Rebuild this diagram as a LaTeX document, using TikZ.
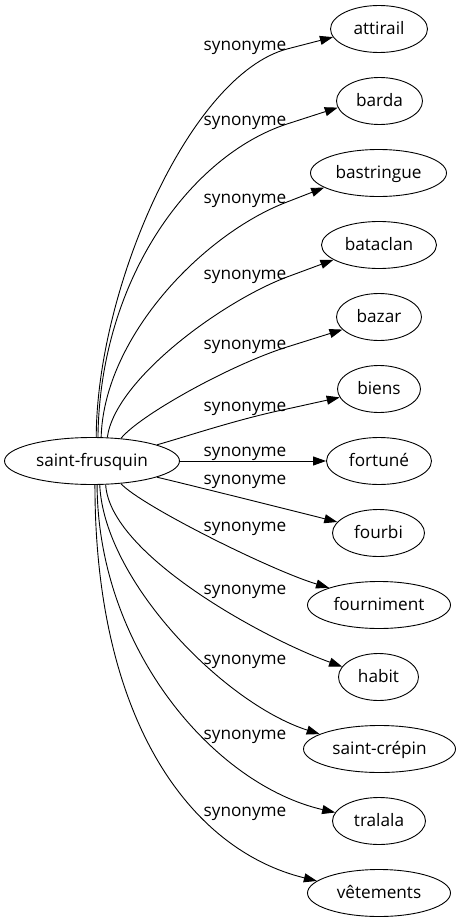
\documentclass[tikz,border=0pt]{standalone}
\usepackage{fontspec}
\setmainfont{Open Sans}
\usetikzlibrary{shapes.geometric,arrows.meta}
\begin{document}
\begin{tikzpicture}[x=1pt,y=-1pt,
  word/.style={ellipse,draw,line width=0.9pt,inner sep=0pt,minimum height=47pt,
    font=\fontsize{17.2}{20}\selectfont,text height=14pt,text depth=3.4pt},
  lab/.style={anchor=base,inner sep=0pt,font=\fontsize{17.2}{20}\selectfont},
  edge/.style={line width=0.9pt,-{Triangle[length=13pt,width=9pt]}}]
\useasboundingbox (0,0) rectangle (461,923);
\node[word,minimum width=175pt] (main) at (92,461) {saint-frusquin};
\node[word,minimum width=97pt] (attirail) at (379,29) {attirail};
\node[word,minimum width=86pt] (barda) at (379.5,101) {barda};
\node[word,minimum width=136pt] (bastringue) at (378.5,173) {bastringue};
\node[word,minimum width=115pt] (bataclan) at (379,245) {bataclan};
\node[word,minimum width=85pt] (bazar) at (379,317) {bazar};
\node[word,minimum width=83pt] (biens) at (379,389) {biens};
\node[word,minimum width=105pt] (fortune) at (379,461) {fortuné};
\node[word,minimum width=92pt] (fourbi) at (378.5,533) {fourbi};
\node[word,minimum width=143pt] (fourniment) at (379,605) {fourniment};
\node[word,minimum width=80pt] (habit) at (378.5,677) {habit};
\node[word,minimum width=152pt] (saintcrepin) at (379.5,749) {saint-crépin};
\node[word,minimum width=93pt] (tralala) at (379,821) {tralala};
\node[word,minimum width=143pt] (vetements) at (379,893) {vêtements};
\node[lab] (l1) at (245,51) {synonyme};
\node[lab] (l2) at (245,126) {synonyme};
\node[lab] (l3) at (245,203) {synonyme};
\node[lab] (l4) at (245,279) {synonyme};
\node[lab] (l5) at (245,349) {synonyme};
\node[lab] (l6) at (245,411) {synonyme};
\node[lab] (l7) at (245,456) {synonyme};
\node[lab] (l8) at (245,484) {synonyme};
\node[lab] (l9) at (245,531) {synonyme};
\node[lab] (l10) at (245,594) {synonyme};
\node[lab] (l11) at (245,664) {synonyme};
\node[lab] (l12) at (245,739) {synonyme};
\node[lab] (l13) at (245,816) {synonyme};
\draw[edge] (main.80) .. controls (97,287) and (190,75) .. (287,49) -- (attirail.190);
\draw[edge] (main.76) .. controls (100,277) and (192,155) .. (287,124) -- (barda.189);
\draw[edge] (main.69) .. controls (104,337) and (203,234) .. (287,202) -- (bastringue.195);
\draw[edge] (main.57) .. controls (115,380) and (221,302) .. (287,277) -- (bataclan.198);
\draw[edge] (main.38) .. controls (140,415) and (230,365) .. (287,347) -- (bazar.199);
\draw[edge] (main.14) .. controls (185,437) and (238,419) .. (287,409) -- (biens.192);
\draw[edge] (main.east) -- (fortune.west);
\draw[edge] (main.346) .. controls (190,485) and (290,510) .. (fourbi.165);
\draw[edge] (main.322) .. controls (140,505) and (270,570) .. (fourniment.161);
\draw[edge] (main.300) .. controls (110,555) and (265,639) .. (habit.164);
\draw[edge] (main.288) .. controls (104,580) and (223,703) .. (saintcrepin.166);
\draw[edge] (main.282) .. controls (98,650) and (215,785) .. (tralala.169);
\draw[edge] (main.277) .. controls (95,720) and (190,850) .. (vetements.169);
\end{tikzpicture}
\end{document}
